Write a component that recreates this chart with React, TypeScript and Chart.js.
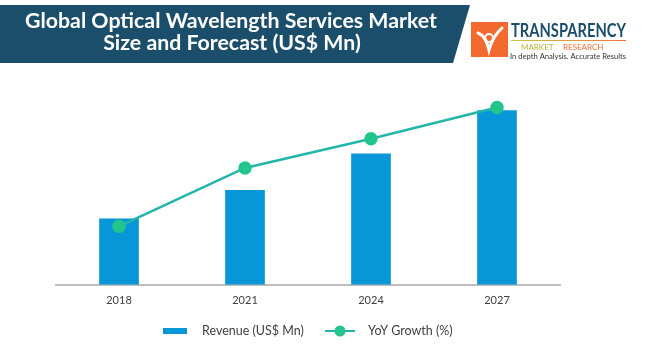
import React, { useEffect, useRef } from "react";
import { Chart, registerables } from "chart.js";

Chart.register(...registerables);

const categories = ["2018", "2021", "2024", "2027"];
const revenue = [3400, 4870, 6740, 8960];
const yoyGrowth = [3.0, 6.0, 7.5, 9.1];
const titleLines = ["Global Optical Wavelength Services Market", "Size and Forecast (US$ Mn)"];
const legendLabels = ["Revenue (US$ Mn)", "YoY Growth (%)"];

const BAR_COLOR = "#0796d8";
const LINE_COLOR = "#22b5aa";
const POINT_COLOR = "#22c58c";
const TEXT_COLOR = "#404040";
const BANNER_COLOR = "#1b4e6b";

function fitText(ctx: CanvasRenderingContext2D, text: string, x: number, y: number, width: number) {
  const w = ctx.measureText(text).width;
  const s = width / w;
  ctx.save();
  ctx.translate(x, y);
  ctx.scale(s, 1);
  ctx.fillText(text, 0, 0);
  ctx.restore();
  return s;
}

const decorPlugin = {
  id: "decor",
  beforeDraw(chart: any) {
    const ctx = chart.ctx as CanvasRenderingContext2D;
    ctx.save();
    ctx.fillStyle = "#ffffff";
    ctx.fillRect(0, 0, chart.width, chart.height);
    // title banner
    ctx.fillStyle = BANNER_COLOR;
    ctx.beginPath();
    ctx.moveTo(0, 5);
    ctx.lineTo(470, 5);
    ctx.lineTo(453, 63);
    ctx.lineTo(0, 63);
    ctx.closePath();
    ctx.fill();
    ctx.fillStyle = "#ffffff";
    ctx.font = "bold 20px Lato";
    ctx.textAlign = "center";
    ctx.textBaseline = "middle";
    const w0 = ctx.measureText(titleLines[0]).width;
    const s = 412 / w0;
    ctx.save();
    ctx.translate(231, 22);
    ctx.scale(s, 1);
    ctx.fillText(titleLines[0], 0, 0);
    ctx.restore();
    ctx.save();
    ctx.translate(232, 44);
    ctx.scale(s, 1);
    ctx.fillText(titleLines[1], 0, 0);
    ctx.restore();

    // logo
    ctx.fillStyle = "#f26a2e";
    ctx.fillRect(471, 22, 37, 35);
    ctx.strokeStyle = "#ffffff";
    ctx.lineWidth = 3;
    ctx.lineCap = "round";
    ctx.beginPath();
    ctx.moveTo(478, 33);
    ctx.quadraticCurveTo(486, 36, 489, 50);
    ctx.quadraticCurveTo(493, 36, 502, 28);
    ctx.stroke();
    ctx.beginPath();
    ctx.arc(489, 38, 4, 0, Math.PI * 2);
    ctx.lineWidth = 2;
    ctx.stroke();

    ctx.textAlign = "left";
    ctx.fillStyle = "#1b4e6b";
    ctx.font = "bold 18px Lato";
    fitText(ctx, "TRANSPARENCY", 511, 31, 115);
    const grad = ctx.createLinearGradient(511, 0, 626, 0);
    grad.addColorStop(0, "#c8c840");
    grad.addColorStop(1, "#f07040");
    ctx.fillStyle = grad;
    ctx.fillRect(511, 40, 115, 1);
    ctx.font = "8px Lato";
    ctx.fillStyle = "#b5b53a";
    ctx.fillText("MARKET", 521, 47);
    ctx.fillStyle = "#ee6a3a";
    ctx.fillText("RESEARCH", 563, 47);
    ctx.fillStyle = "#333333";
    ctx.font = "7px Lato";
    fitText(ctx, "In depth Analysis. Accurate Results", 510, 57, 116);
    ctx.restore();
  },
  afterDraw(chart: any) {
    const ctx = chart.ctx as CanvasRenderingContext2D;
    const ds = chart.data.datasets;
    ctx.save();
    const y = 331;
    ctx.fillStyle = ds[0].backgroundColor;
    ctx.fillRect(163, y - 3, 24, 6);
    ctx.font = "12.5px Lato";
    ctx.fillStyle = TEXT_COLOR;
    ctx.textAlign = "left";
    ctx.textBaseline = "middle";
    ctx.fillText(ds[0].label, 202, y);
    ctx.strokeStyle = ds[1].borderColor;
    ctx.lineWidth = 2;
    ctx.beginPath();
    ctx.moveTo(325, y);
    ctx.lineTo(355, y);
    ctx.stroke();
    ctx.fillStyle = ds[1].pointBackgroundColor;
    ctx.beginPath();
    ctx.arc(340, y, 5.5, 0, Math.PI * 2);
    ctx.fill();
    ctx.fillStyle = TEXT_COLOR;
    ctx.fillText(ds[1].label, 368, y);
    ctx.restore();
  },
};

export default function App() {
  const ref = useRef<HTMLCanvasElement | null>(null);
  useEffect(() => {
    document.body.style.margin = "0";
    const chart = new Chart(ref.current as HTMLCanvasElement, {
      type: "bar",
      data: {
        labels: categories,
        datasets: [
          {
            type: "bar",
            label: legendLabels[0],
            data: revenue,
            backgroundColor: BAR_COLOR,
            barPercentage: 0.315,
            categoryPercentage: 1,
            yAxisID: "y",
            order: 2,
          } as any,
          {
            type: "line",
            label: legendLabels[1],
            data: yoyGrowth,
            borderColor: LINE_COLOR,
            borderWidth: 2.5,
            pointBackgroundColor: POINT_COLOR,
            pointBorderColor: POINT_COLOR,
            pointRadius: 5.5,
            tension: 0,
            yAxisID: "y1",
            order: 1,
          } as any,
        ],
      },
      options: {
        animation: false,
        responsive: false,
        maintainAspectRatio: false,
        layout: { padding: { left: 56, right: 90, top: 90, bottom: 45 } },
        plugins: { legend: { display: false }, tooltip: { enabled: false } },
        scales: {
          x: {
            offset: true,
            grid: { display: false, drawTicks: false },
            border: { display: true, color: "#bdbdbd", width: 2 },
            ticks: { color: TEXT_COLOR, font: { family: "Lato", size: 11 }, padding: 9 },
          },
          y: { display: false, min: 0, max: 10000 },
          y1: { display: false, min: 0, max: 10 },
        },
      },
      plugins: [decorPlugin],
    });
    return () => chart.destroy();
  }, []);
  return <canvas ref={ref} width={650} height={361} style={{ display: "block" }} />;
}
